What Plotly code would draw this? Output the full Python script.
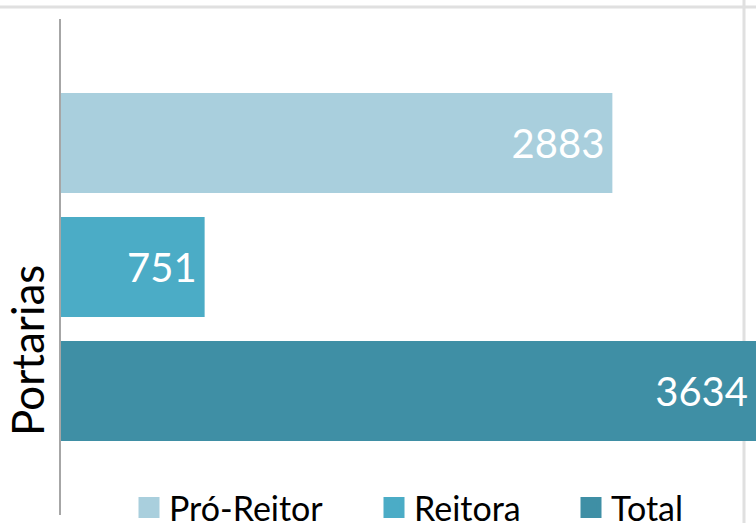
import plotly.graph_objects as go

categories = ["Portarias"]
series_names = ["Pró-Reitor", "Reitora", "Total"]
series_values = [[2883], [751], [3634]]
series_colors = ["#A9CFDD", "#4BACC6", "#3F8FA5"]

W, H = 756, 523
ML, MR, MT, MB = 61, 0, 19, 8

fig = go.Figure()
for name, vals, col in zip(series_names, series_values, series_colors):
    fig.add_trace(go.Bar(
        y=categories, x=vals, name=name, orientation="h",
        marker=dict(color=col, line=dict(width=0)),
        text=[f"{v}\u2009" for v in vals],
        textposition="inside", insidetextanchor="end",
        textfont=dict(family="Lato", size=40, color="white"),
        showlegend=False, hoverinfo="skip",
    ))

legend_ids = ["legend", "legend2", "legend3"]
legend_x_px = [129, 374, 571]
for name, col, lid in zip(series_names, series_colors, legend_ids):
    fig.add_trace(go.Scatter(
        x=[None], y=[None], mode="markers", name=name, legend=lid,
        marker=dict(symbol="square", size=16, color=col, line=dict(color=col, width=5)),
        showlegend=True, hoverinfo="skip",
    ))

plot_w = W - ML - MR
plot_h = H - MT - MB
xmax = max(v[0] for v in series_values)

layout_legends = {}
for lid, xpx in zip(legend_ids, legend_x_px):
    layout_legends[lid] = dict(
        orientation="h", xref="container", yref="container",
        x=xpx / W, xanchor="left", y=(H - 508) / H, yanchor="middle",
        font=dict(family="Lato", size=34, color="#000000"),
        bgcolor="rgba(0,0,0,0)", borderwidth=0,
    )

fig.update_layout(
    width=W, height=H,
    margin=dict(l=ML, r=MR, t=MT, b=MB, pad=0, autoexpand=False),
    paper_bgcolor="white", plot_bgcolor="white",
    barmode="group", bargap=0.25, bargroupgap=0.1935,
    xaxis=dict(range=[0, xmax], visible=False, fixedrange=True),
    yaxis=dict(autorange="reversed", showticklabels=False, ticks="",
               showgrid=False, zeroline=False, fixedrange=True,
               showline=True, linecolor="#A6A6A6", linewidth=1.5),
    annotations=[dict(
        text=categories[0], textangle=-90, showarrow=False,
        xref="paper", yref="paper",
        x=(27 - ML) / plot_w, y=(H - MB - 351) / plot_h,
        xanchor="center", yanchor="middle",
        font=dict(family="Lato", size=44, color="#000000"),
    )],
    shapes=[
        dict(type="line", xref="paper", yref="paper", layer="below",
             x0=-ML / plot_w, x1=1.0, y0=(H - MB - 7) / plot_h, y1=(H - MB - 7) / plot_h,
             line=dict(color="#E0E0E0", width=3)),
        dict(type="line", xref="paper", yref="paper", layer="below",
             x0=(744 - ML) / plot_w, x1=(744 - ML) / plot_w,
             y0=-MB / plot_h, y1=(H - MB) / plot_h,
             line=dict(color="#E0E0E0", width=3)),
    ],
    **layout_legends,
)

fig.write_html(
    "out.html",
    config={"displayModeBar": False},
    post_script="document.body.style.margin='0px';document.body.style.overflow='hidden';",
)
